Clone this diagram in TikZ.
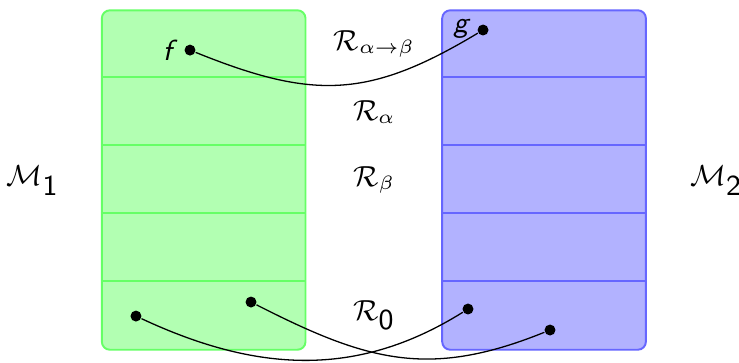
\documentclass[tikz,border=0pt]{standalone}
\usetikzlibrary{positioning, calc}

\begin{document}
\begin{tikzpicture}[
  module/.style={rectangle, draw=#1!60, fill=#1!30, semithick, rounded corners=2.5pt,
                 minimum width=2.22cm, minimum height=3.7cm, inner sep=0pt},
  sep/.style={draw=#1!60, semithick},
  dot/.style={circle, fill=black, inner sep=0pt, minimum size=3.4pt},
  lbl/.style={font=\small},
  pt/.style={inner sep=1pt, font=\small\sffamily\itshape},
  link/.style={black, thin},
]
  \useasboundingbox (0,0) rectangle (8.055,3.946);

  % Modules
  \node[module=green] (m1) at (2.22,1.984) {};
  \node[module=blue]  (m2) at (5.93,1.984) {};
  \foreach \i in {1,...,4} {
    \draw[sep=green] ([yshift=-\i*0.74cm]m1.north west) -- ([yshift=-\i*0.74cm]m1.north east);
    \draw[sep=blue]  ([yshift=-\i*0.74cm]m2.north west) -- ([yshift=-\i*0.74cm]m2.north east);
  }

  \node[lbl] (M1) at (0.36,1.98) {$\mathcal{M}_{\textsf{1}}$};
  \node[lbl] (M2) at (7.81,1.98) {$\mathcal{M}_{\textsf{2}}$};

  % Relations
  \node[lbl] (rab) at (4.08,3.467) {$\mathcal{R}_{\alpha\to\beta}$};
  \node[lbl] (ra)  at (4.08,2.727) {$\mathcal{R}_{\alpha}$};
  \node[lbl] (rb)  at (4.08,1.987) {$\mathcal{R}_{\beta}$};
  \node[lbl] (r0)  at (4.08,0.507) {$\mathcal{R}_{\textsf{0}}$};

  % Elements
  \node[dot] (f) at (2.071,3.400) {};
  \node[dot] (g) at (5.265,3.619) {};
  \node[pt, left=2.5pt of f] (fl) {f};
  \node[pt, left=1.5pt of g, yshift=0.5pt] (gl) {g};

  \node[dot] (a) at (1.482,0.501) {};
  \node[dot] (b) at (2.736,0.654) {};
  \node[dot] (c) at (5.101,0.578) {};
  \node[dot] (d) at (5.995,0.349) {};

  \draw[link] (f) to[out=-22, in=-149, looseness=1.15] (g);
  \draw[link] (a) to[out=-25, in=-148] (c);
  \draw[link] (b) to[out=-27, in=-158, looseness=1.1] (d);
\end{tikzpicture}
\end{document}
